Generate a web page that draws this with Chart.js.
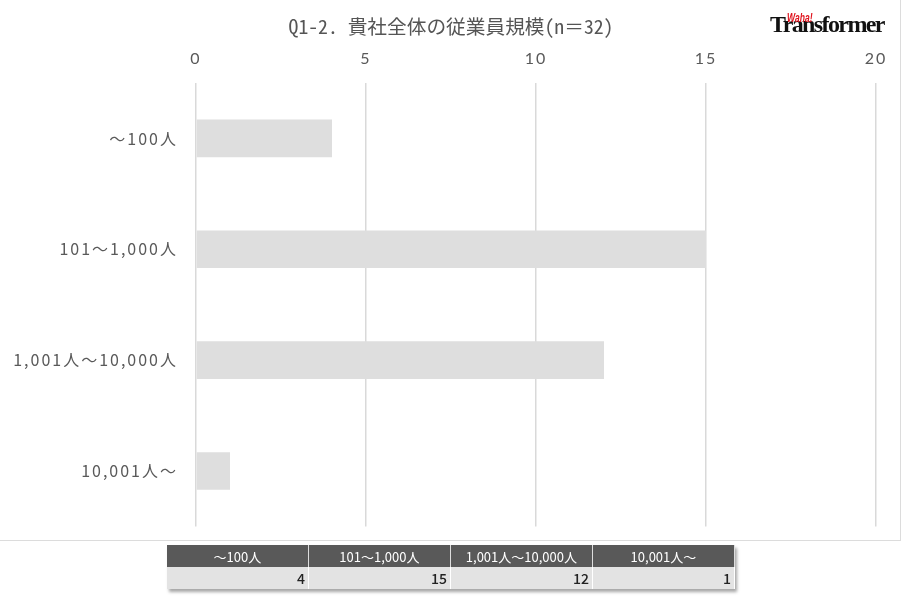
<!DOCTYPE html>
<html>
<head>
<meta charset="utf-8">
<script src="https://cdn.jsdelivr.net/npm/chart.js@4"></script>
<style>
  body { margin: 0; background: #fff; font-family: "Noto Sans CJK JP", sans-serif; }
  #wrap { position: relative; width: 902px; height: 604px; }
  #frame { position: absolute; left: 0; top: 0; width: 901px; height: 541px;
           border-right: 1px solid #dcdcdc; border-bottom: 1px solid #dcdcdc; box-sizing: border-box; }
  #c { position: absolute; left: 0; top: 0; }
  #title { position: absolute; left: 0; width: 902px; top: 11px; text-align: center;
           font-family: "Noto Sans Mono CJK JP", "Noto Sans CJK JP", sans-serif;
           font-size: 19.7px; color: #555; }
  #logo { position: absolute; left: 770px; top: 8px; width: 125px; height: 34px; }
  #logo .t { position: absolute; left: 0; top: 3px; font-family: "Liberation Serif", serif; font-weight: bold;
             font-size: 24px; letter-spacing: -1.6px; color: #111; }
  #logo .w { position: absolute; left: 17px; top: 2px; font-family: "Liberation Sans", sans-serif; font-weight: bold;
             font-style: italic; font-size: 13px; color: #e0141e; transform: scaleX(0.66); transform-origin: left top; }
  #tbl { position: absolute; left: 167px; top: 545px; border-collapse: collapse; width: 568px;
         box-shadow: 2px 3px 3px rgba(0,0,0,0.35); font-size: 13px; }
  #tbl th { background: #595959; color: #fff; font-weight: normal; height: 22px; padding: 0;
            border-right: 1px solid #ddd; width: 142px; }
  #tbl td { background: #e3e3e3; color: #222; text-align: right; height: 22px; padding: 0 3px 0 0;
            border-right: 1px solid #fff; font-size: 14px; font-weight: 500; }
</style>
</head>
<body>
<div id="wrap">
  <!-- canvas runs a little past the frame; the extra is empty and sits under the table -->
  <canvas id="c" width="902" height="554"></canvas>
  <div id="frame"></div>
  <div id="title">Q1-2. 貴社全体の従業員規模(n＝32)</div>
  <div id="logo"><span class="t">Transformer</span><span class="w">Waha!</span></div>
  <table id="tbl"><tr id="hrow"></tr><tr id="drow"></tr></table>
</div>
<script>
var categories = ['～100人', '101～1,000人', '1,001人～10,000人', '10,001人～'];
var counts = [4, 15, 12, 1];
var axisMax = 20;
var axisStep = 5;

// table under the chart
var hrow = document.getElementById('hrow');
var drow = document.getElementById('drow');
categories.forEach(function(c, i) {
	var th = document.createElement('th');
	th.textContent = c;
	hrow.appendChild(th);
	var td = document.createElement('td');
	td.textContent = counts[i];
	drow.appendChild(td);
});

// the labels in the picture are set wide
var spacing = {
	id: 'spacing',
	beforeDraw: function(chart) { chart.ctx.letterSpacing = '2px'; }
};

var ctx = document.getElementById('c').getContext('2d');
new Chart(ctx, {
	type: 'bar',
	data: {
		labels: categories,
		datasets: [{
			data: counts,
			backgroundColor: '#dedede',
			borderWidth: 0,
			categoryPercentage: 1,
			barPercentage: 0.34
		}]
	},
	plugins: [spacing],
	options: {
		indexAxis: 'y',
		responsive: false,
		animation: false,
		layout: { autoPadding: false, padding: { left: 0, right: 26, top: 0, bottom: 15 } },
		plugins: { legend: { display: false }, title: { display: false }, tooltip: { enabled: false } },
		scales: {
			x: {
				position: 'top',
				min: 0,
				max: axisMax,
				border: { display: false },
				grid: { color: '#d9d9d9', lineWidth: 1.5, drawTicks: false },
				ticks: { stepSize: axisStep, color: '#595959', padding: 15,
					font: { family: 'Lato, "Noto Sans CJK JP", sans-serif', size: 16 } },
				afterFit: function(s) { s.height = 83; }
			},
			y: {
				border: { display: false },
				grid: { display: false, drawTicks: false },
				ticks: { color: '#595959', padding: 18,
					font: { family: '"Noto Sans CJK JP", sans-serif', size: 16 } },
				afterFit: function(s) { s.width = 196; }
			}
		}
	}
});
</script>
</body>
</html>
